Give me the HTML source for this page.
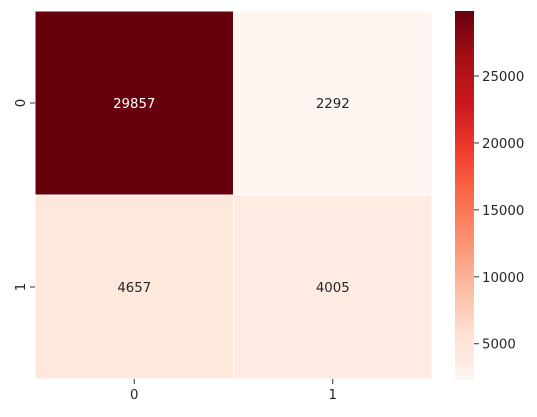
<!DOCTYPE html>
<html><head><meta charset="utf-8"><style>
body{margin:0;background:#fff;font-family:"DejaVu Sans","Liberation Sans",sans-serif}
</style></head><body>
<svg id="c" width="537" height="413" xmlns="http://www.w3.org/2000/svg" font-family="DejaVu Sans, Liberation Sans, sans-serif">
<defs><linearGradient id="g" x1="0" y1="1" x2="0" y2="0"></linearGradient></defs>
</svg>
<script>
const rowLabels=["0","1"];
const colLabels=["0","1"];
const values=[[29857,2292],[4657,4005]];
const cbTicks=[5000,10000,15000,20000,25000];
const stops=["#fff5f0","#fee0d2","#fcbba1","#fc9272","#fb6a4a","#ef3b2c","#cb181d","#a50f15","#67000d"];
const svg=document.getElementById('c');const NS="http://www.w3.org/2000/svg";
function mk(t,a,p){const e=document.createElementNS(NS,t);for(const k in a)e.setAttribute(k,a[k]);(p||svg).appendChild(e);return e;}
const flat=values.flat();const vmin=Math.min(...flat),vmax=Math.max(...flat);
function hex(h){return [1,3,5].map(i=>parseInt(h.substr(i,2),16));}
function cmap(v){let t=(v-vmin)/(vmax-vmin);t=Math.max(0,Math.min(1,t));const f=t*(stops.length-1);const i=Math.min(Math.floor(f),stops.length-2);const r=f-i;const a=hex(stops[i]),b=hex(stops[i+1]);return 'rgb('+a.map((x,k)=>Math.round(x+(b[k]-x)*r)).join(',')+')';}
function lum(v){let t=(v-vmin)/(vmax-vmin);return t>0.5;}
const X0=35,X1=432,Y0=11,Y1=379;
const FS='13.3';
const cw=(X1-X0)/colLabels.length,ch=(Y1-Y0)/rowLabels.length;
values.forEach((row,i)=>row.forEach((v,j)=>{
 const r=mk('rect',{x:X0+j*cw,y:Y0+i*ch,width:cw,height:ch,fill:cmap(v),stroke:'#fff','stroke-width':1});
 
 
 const t=mk('text',{x:X0+(j+.5)*cw,y:Y0+(i+.5)*ch+5,'text-anchor':'middle','font-size':FS,fill:lum(v)?'#fff':'#262626'});
 t.textContent=v;
 
 
}));
rowLabels.forEach((l,i)=>{const y=Y0+(i+.5)*ch;
 mk('line',{x1:X0-5,x2:X0,y1:y,y2:y,stroke:'#333'});
 const t=mk('text',{x:0,y:0,transform:`translate(${X0-10},${y}) rotate(-90)`,'text-anchor':'middle','font-size':FS,fill:'#262626'});t.textContent=l;
 
 });
colLabels.forEach((l,j)=>{const x=X0+(j+.5)*cw;
 mk('line',{x1:x,x2:x,y1:Y1,y2:Y1+5,stroke:'#333'});
 const t=mk('text',{x:x,y:Y1+20,'text-anchor':'middle','font-size':FS,fill:'#262626'});t.textContent=l;
 
 });
const g=document.getElementById('g');
stops.forEach((s,i)=>mk('stop',{offset:i/(stops.length-1),'stop-color':s},g));
const CX=455,CW=19,CY0=11,CY1=380;
const cb=mk('rect',{x:CX,y:CY0,width:CW,height:CY1-CY0,fill:'url(#g)'});


function cy(v){return CY1-(v-vmin)/(vmax-vmin)*(CY1-CY0);}
cbTicks.forEach(v=>{const y=cy(v);
 mk('line',{x1:CX+CW,x2:CX+CW+5,y1:y,y2:y,stroke:'#333'});
 const t=mk('text',{x:CX+CW+8,y:y+5,'font-size':FS,fill:'#262626'});t.textContent=v;
 
 });
</script>
</body></html>
